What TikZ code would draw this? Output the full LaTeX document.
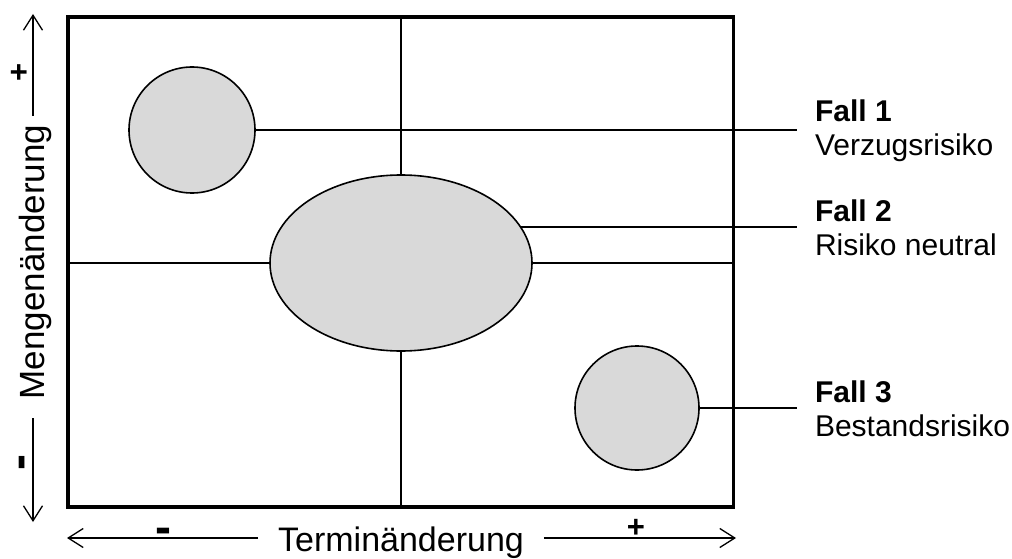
\documentclass[tikz,border=0pt]{standalone}
\usepackage{fontspec}
\setmainfont{Liberation Sans}
\definecolor{casegray}{RGB}{217,217,217}
\usetikzlibrary{arrows.meta,positioning,shapes.geometric,calc}

\tikzset{
    axisarrow/.style={line width=1.3pt, -{Straight Barb[length=15pt,width=19pt,line width=1.3pt]}},
    axislabel/.style={font=\fontsize{34}{38}\selectfont, inner xsep=20pt, inner ysep=0pt, outer sep=0pt},
    plussign/.style={font=\fontsize{31}{33}\selectfont\bfseries, inner sep=0pt},
    minussign/.style={font=\fontsize{48}{50}\selectfont\bfseries, inner sep=0pt},
    caselabel/.style={font=\fontsize{30}{34}\selectfont, align=left, anchor=west, inner sep=0pt, outer xsep=18pt},
    leader/.style={line width=1.6pt},
    blob/.style={draw, line width=1.6pt, fill=casegray, inner sep=0pt}
}

\begin{document}
\begin{tikzpicture}[x=1pt, y=-1pt]
    \useasboundingbox (0,0) rectangle (1012,559);

    % quadrants
    \draw[leader] (68,263) -- (733.5,263);
    \draw[leader] (401,17) -- (401,507);

    % case labels on the right
    \node[caselabel] (fall1) at (797,131) {\textbf{Fall 1}\\Verzugsrisiko};
    \node[caselabel] (fall2) at (797,228) {\textbf{Fall 2}\\Risiko neutral};
    \node[caselabel] (fall3) at (797,409) {\textbf{Fall 3}\\Bestandsrisiko};

    % shapes go on top of the inner ends of the leaders
    \coordinate (mid) at (401,263);
    \coordinate (c1pos) at (192,130);
    \coordinate (e2pos) at (401,227);
    \coordinate (c3pos) at (637,408);
    \draw[leader] (c1pos) -- (c1pos -| fall1.west);
    \draw[leader] (e2pos) -- (e2pos -| fall2.west);
    \draw[leader] (c3pos) -- (c3pos -| fall3.west);

    \node[blob, circle, minimum size=126pt] (c1) at (c1pos) {};
    \node[blob, ellipse, minimum width=262pt, minimum height=176pt] (e2) at (mid) {};
    \node[blob, circle, minimum size=124pt] (c3) at (c3pos) {};

    % frame
    \draw[line width=3.6pt] (68,17) rectangle (733.5,507);

    % time axis
    \node[axislabel] (termin) at (401,543) {Terminänderung};
    \coordinate (tleft) at (67,538);
    \coordinate (tright) at (736,538);
    \draw[axisarrow] (tleft -| termin.west) -- (tleft);
    \draw[axisarrow] (tright -| termin.east) -- (tright);
    \node[minussign] (tminus) at (163,536) {-};
    \node[plussign] (tplus) at (636,528) {+};

    % quantity axis
    \node[axislabel, rotate=90, inner xsep=9pt, font=\fontsize{35}{38}\selectfont] (menge) at (35,262) {Mengenänderung};
    \coordinate (mtop) at (33,14);
    \coordinate (mbottom) at (33,522);
    \draw[axisarrow] (menge.east -| mtop) -- (mtop);
    \draw[axisarrow, shorten <=10pt] (menge.west -| mbottom) -- (mbottom);
    \node[plussign, rotate=90] (mplus) at (20,72) {+};
    \node[minussign, rotate=90] (mminus) at (27,463) {-};
\end{tikzpicture}
\end{document}
